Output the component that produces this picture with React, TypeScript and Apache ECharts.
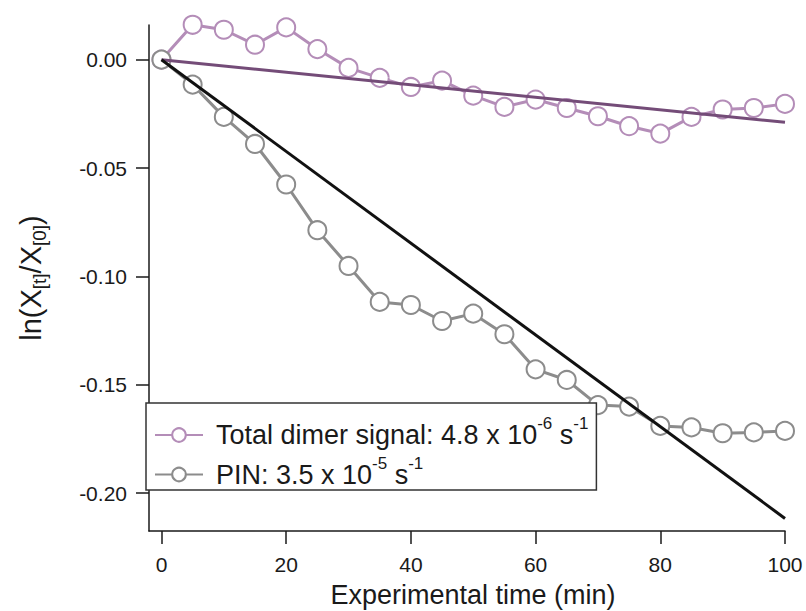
import React, { useEffect, useRef } from 'react';
import * as echarts from 'echarts';

const timeMin = [0, 5, 10, 15, 20, 25, 30, 35, 40, 45, 50, 55, 60, 65, 70, 75, 80, 85, 90, 95, 100];
const dimerSignal = [0, 0.0161, 0.0138, 0.0069, 0.0149, 0.0049, -0.0038, -0.0084, -0.0126, -0.0097, -0.0166,
  -0.0218, -0.0184, -0.0223, -0.0261, -0.0307, -0.0341, -0.0264, -0.023, -0.0223, -0.0204];
const pinSignal = [0, -0.0115, -0.0264, -0.0389, -0.0576, -0.0787, -0.0952, -0.1118, -0.1132, -0.1206, -0.1172,
  -0.1267, -0.1429, -0.1478, -0.1594, -0.1601, -0.169, -0.1697, -0.1724, -0.172, -0.1713];
const dimerFitTime = [0, 100];
const dimerFitValue = [0, -0.0289];
const pinFitTime = [0, 100];
const pinFitValue = [0, -0.2117];
const xTicks = [0, 20, 40, 60, 80, 100];
const yTicks = [0, -0.05, -0.1, -0.15, -0.2];

const FONT = 'Liberation Sans, Arial, sans-serif';
const PURPLE = '#b48db8';
const PURPLE_DARK = '#744c78';
const GRAY = '#8c8c8c';
const BLACK = '#111111';
const AXIS = '#1a1a1a';

export default function App() {
  const ref = useRef<HTMLDivElement>(null);
  useEffect(() => {
    const chart = echarts.init(ref.current!, null, { renderer: 'svg' });
    const legendText: Record<string, string> = {
      'Total dimer signal': '{a|Total dimer signal: 4.8 x 10}{s|-6}{a| s}{s|-1}',
      PIN: '{a|PIN: 3.5 x 10}{s|-5}{a| s}{s|-1}',
    };
    chart.setOption({
      animation: false,
      backgroundColor: '#ffffff',
      textStyle: { fontFamily: FONT },
      grid: { left: 149, right: 21, top: 25, bottom: 80, containLabel: false, outerBoundsMode: 'none' },
      xAxis: {
        type: 'value',
        min: -2,
        max: 100,
        axisLine: { show: true, onZero: false, lineStyle: { color: AXIS, width: 1.5 } },
        axisTick: { show: true, customValues: xTicks, length: 13, inside: false, lineStyle: { color: AXIS, width: 1.5 } },
        axisLabel: { customValues: xTicks, fontSize: 21, color: AXIS, margin: 23, fontFamily: FONT },
        splitLine: { show: false },
        name: 'Experimental time (min)',
        nameLocation: 'middle',
        nameGap: 50,
        nameTextStyle: { fontSize: 27, color: AXIS, fontFamily: FONT, padding: [0, 0, 0, 12] },
      },
      yAxis: {
        type: 'value',
        min: -0.2175,
        max: 0.016,
        axisLine: { show: true, onZero: false, lineStyle: { color: AXIS, width: 1.5 } },
        axisTick: { show: true, customValues: yTicks, length: 13, inside: false, lineStyle: { color: AXIS, width: 1.5 } },
        axisLabel: {
          customValues: yTicks,
          fontSize: 21,
          color: AXIS,
          margin: 22,
          fontFamily: FONT,
          formatter: (v: number) => v.toFixed(2),
        },
        splitLine: { show: false },
        name: '{a|ln(X}{s|[t]}{a|/X}{s|[0]}{a|)}',
        nameLocation: 'middle',
        nameRotate: 90,
        nameGap: 100,
        nameTextStyle: {
          color: AXIS,
          fontFamily: FONT,
          rich: {
            a: { fontSize: 29, lineHeight: 36, color: AXIS, fontFamily: FONT },
            s: { fontSize: 19, lineHeight: 18, verticalAlign: 'bottom', color: AXIS, fontFamily: FONT },
          },
        },
      },
      legend: {
        show: true,
        orient: 'vertical',
        left: 146,
        top: 403,
        data: ['Total dimer signal', 'PIN'],
        itemWidth: 48,
        itemHeight: 17,
        itemGap: 6,
        padding: [12, 8, 2, 8],
        borderColor: '#333333',
        borderWidth: 1.5,
        borderRadius: 0,
        backgroundColor: '#ffffff',
        z: 10,
        formatter: (name: string) => legendText[name] || name,
        textStyle: {
          fontFamily: FONT,
          color: AXIS,
          padding: [0, 0, 0, 8],
          rich: {
            a: { fontSize: 27, lineHeight: 40, color: AXIS, fontFamily: FONT },
            s: { fontSize: 17, lineHeight: 6, verticalAlign: 'top', color: AXIS, fontFamily: FONT },
          },
        },
      },
      series: [
        {
          name: 'Total dimer signal',
          type: 'line',
          data: timeMin.map((t, i) => [t, dimerSignal[i]]),
          symbol: 'emptyCircle',
          symbolSize: 18,
          clip: false,
          itemStyle: { color: PURPLE, borderColor: PURPLE, borderWidth: 3 },
          lineStyle: { color: PURPLE, width: 3 },
          z: 2,
        },
        {
          name: 'PIN',
          type: 'line',
          data: timeMin.map((t, i) => [t, pinSignal[i]]),
          symbol: 'emptyCircle',
          symbolSize: 18,
          clip: false,
          itemStyle: { color: GRAY, borderColor: GRAY, borderWidth: 3 },
          lineStyle: { color: GRAY, width: 3 },
          z: 3,
        },
        {
          name: 'dimerFit',
          type: 'line',
          data: dimerFitTime.map((t, i) => [t, dimerFitValue[i]]),
          symbol: 'none',
          clip: false,
          lineStyle: { color: PURPLE_DARK, width: 3 },
          z: 5,
        },
        {
          name: 'pinFit',
          type: 'line',
          data: pinFitTime.map((t, i) => [t, pinFitValue[i]]),
          symbol: 'none',
          clip: false,
          lineStyle: { color: BLACK, width: 3 },
          z: 5,
        },
      ],
    });
    return () => chart.dispose();
  }, []);
  return <div ref={ref} style={{ position: 'fixed', left: 0, top: 0, width: 806, height: 611 }} />;
}
